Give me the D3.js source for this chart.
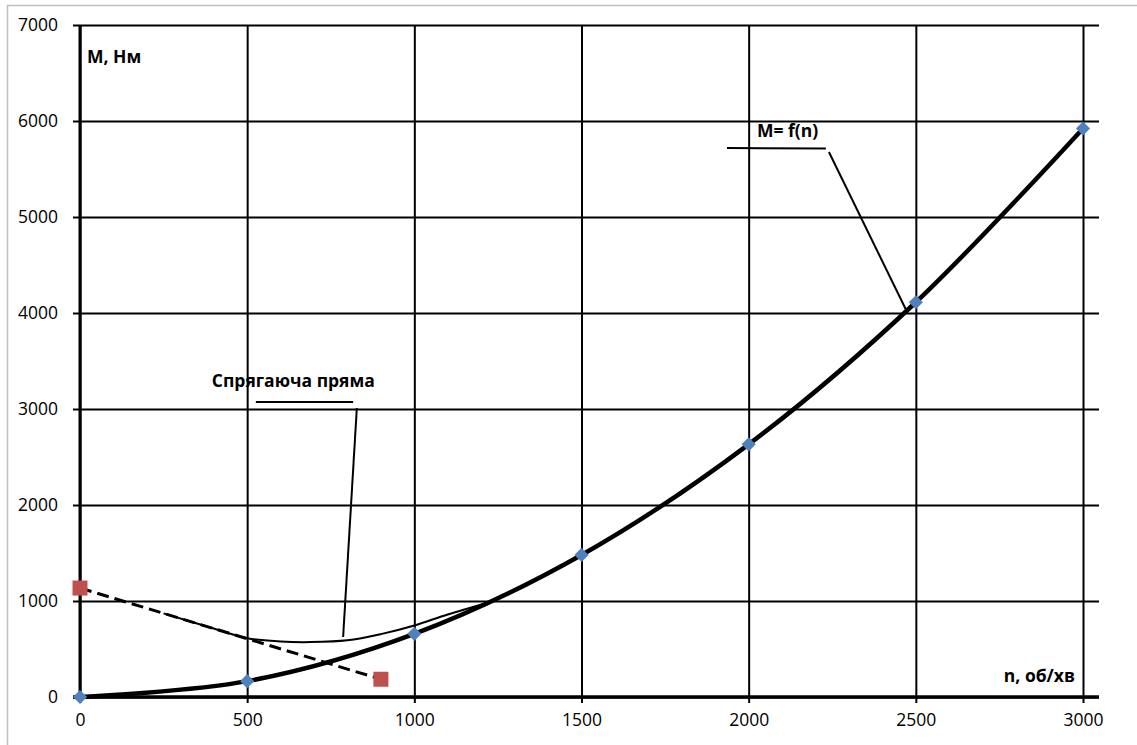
<!DOCTYPE html>
<html>
<head>
<meta charset="utf-8">
<script src="https://cdn.jsdelivr.net/npm/d3@7"></script>
<style>
  body { margin: 0; background: #fff; }
  text { font-family: "Open Sans", "DejaVu Sans", sans-serif; fill: #000; }
</style>
</head>
<body>
<svg id="chart"></svg>
<script>
// M = f(n) points (diamonds)
const nValues = [0, 500, 1000, 1500, 2000, 2500, 3000];
const mValues = [0, 165, 658, 1480, 2632, 4112, 5922];

// conjugating straight line (squares + dashed)
const lineN = [0, 900];
const lineM = [1135, 185];

// thin transition curve
const blendN = [250, 400, 500, 600, 690, 800, 900, 1000, 1100, 1222];
const blendM = [871, 713, 612, 578, 572, 590, 655, 745, 860, 985];

const xTicks = [0, 500, 1000, 1500, 2000, 2500, 3000];
const yTicks = [0, 1000, 2000, 3000, 4000, 5000, 6000, 7000];

const W = 1137, H = 745;
const svg = d3.select('#chart').attr('width', W).attr('height', H);

svg.append('rect')
  .attr('x', 7.5).attr('y', 5.5)
  .attr('width', 1140).attr('height', 745)
  .attr('fill', '#fff')
  .attr('stroke', '#bfbfbf')
  .attr('stroke-width', 1.5);

const x = d3.scaleLinear().domain([0, 3000]).range([80, 1083]);
const y = d3.scaleLinear().domain([0, 7000]).range([697, 25]);

// grid (extends past the plot like tick marks)
const gridLeft = 73, gridRight = 1099, gridBottom = 703;

svg.append('g')
  .attr('transform', 'translate(' + gridLeft + ',0)')
  .call(d3.axisRight(y).tickValues(yTicks).tickSize(gridRight - gridLeft).tickFormat(''))
  .call(g => g.select('.domain').remove())
  .call(g => g.selectAll('line').attr('stroke', '#000').attr('stroke-width', 2));

svg.append('g')
  .attr('transform', 'translate(0,' + y(7000) + ')')
  .call(d3.axisBottom(x).tickValues(xTicks).tickSize(gridBottom - y(7000)).tickFormat(''))
  .call(g => g.select('.domain').remove())
  .call(g => g.selectAll('line').attr('stroke', '#000').attr('stroke-width', 2));

// heavier axes
svg.append('line')
  .attr('x1', x(0)).attr('x2', x(0))
  .attr('y1', y(7000)).attr('y2', y(0))
  .attr('stroke', '#000').attr('stroke-width', 3);
svg.append('line')
  .attr('x1', gridLeft).attr('x2', gridRight)
  .attr('y1', y(0)).attr('y2', y(0))
  .attr('stroke', '#000').attr('stroke-width', 3.5);

// tick labels
svg.append('g')
  .attr('transform', 'translate(' + x(0) + ',0)')
  .call(d3.axisLeft(y).tickValues(yTicks).tickSize(0).tickPadding(22).tickFormat(d3.format('d')))
  .call(g => g.select('.domain').remove())
  .call(g => g.selectAll('text').style('font-size', '17.5px').attr('fill', '#000'));

svg.append('g')
  .attr('transform', 'translate(0,' + y(0) + ')')
  .call(d3.axisBottom(x).tickValues(xTicks).tickSize(0).tickPadding(17).tickFormat(d3.format('d')))
  .call(g => g.select('.domain').remove())
  .call(g => g.selectAll('text').style('font-size', '17.5px').attr('fill', '#000'));

// thin blend curve
const blendPts = blendN.map((n, i) => [n, blendM[i]]);
svg.append('path')
  .datum(blendPts)
  .attr('fill', 'none')
  .attr('stroke', '#000')
  .attr('stroke-width', 2)
  .attr('d', d3.line().x(d => x(d[0])).y(d => y(d[1])).curve(d3.curveCatmullRom.alpha(0.5)));

// dashed straight line
const linePts = lineN.map((n, i) => [n, lineM[i]]);
svg.append('path')
  .datum(linePts)
  .attr('fill', 'none')
  .attr('stroke', '#000')
  .attr('stroke-width', 3)
  .attr('stroke-dasharray', '12,6')
  .attr('d', d3.line().x(d => x(d[0])).y(d => y(d[1])));

// thick M = f(n) curve
const mPts = nValues.map((n, i) => [n, mValues[i]]);
svg.append('path')
  .datum(mPts)
  .attr('fill', 'none')
  .attr('stroke', '#000')
  .attr('stroke-width', 4.5)
  .attr('d', d3.line().x(d => x(d[0])).y(d => y(d[1])).curve(d3.curveCatmullRom.alpha(0.5)));

// markers
svg.append('g').selectAll('path')
  .data(mPts)
  .join('path')
  .attr('transform', d => 'translate(' + x(d[0]) + ',' + y(d[1]) + ') rotate(45)')
  .attr('d', d3.symbol().type(d3.symbolSquare).size(100))
  .attr('fill', '#4f81bd');

svg.append('g').selectAll('path')
  .data(linePts)
  .join('path')
  .attr('transform', d => 'translate(' + x(d[0]) + ',' + y(d[1]) + ')')
  .attr('d', d3.symbol().type(d3.symbolSquare).size(225))
  .attr('fill', '#c0504d');

// annotations (data coordinates)
function leader(p1, p2, w) {
  svg.append('line')
    .attr('x1', x(p1[0])).attr('y1', y(p1[1]))
    .attr('x2', x(p2[0])).attr('y2', y(p2[1]))
    .attr('stroke', '#000').attr('stroke-width', w || 2);
}
function label(txt, p, anchor) {
  svg.append('text')
    .attr('x', x(p[0])).attr('y', y(p[1]))
    .attr('text-anchor', anchor || 'start')
    .style('font-size', '17.5px')
    .style('font-weight', 'bold')
    .text(txt);
}

label('M, Нм', [21, 6604]);
label('n, об/хв', [2976, 156], 'end');

label('Спрягаюча пряма', [885 - 247, 3229], 'middle');
leader([526, 3073], [817, 3073]);
leader([828, 3010], [787, 625]);

label('M= f(n)', [2025, 5833]);
leader([1935, 5719], [2231, 5713]);
leader([2240, 5677], [2471, 4031]);
</script>
</body>
</html>
